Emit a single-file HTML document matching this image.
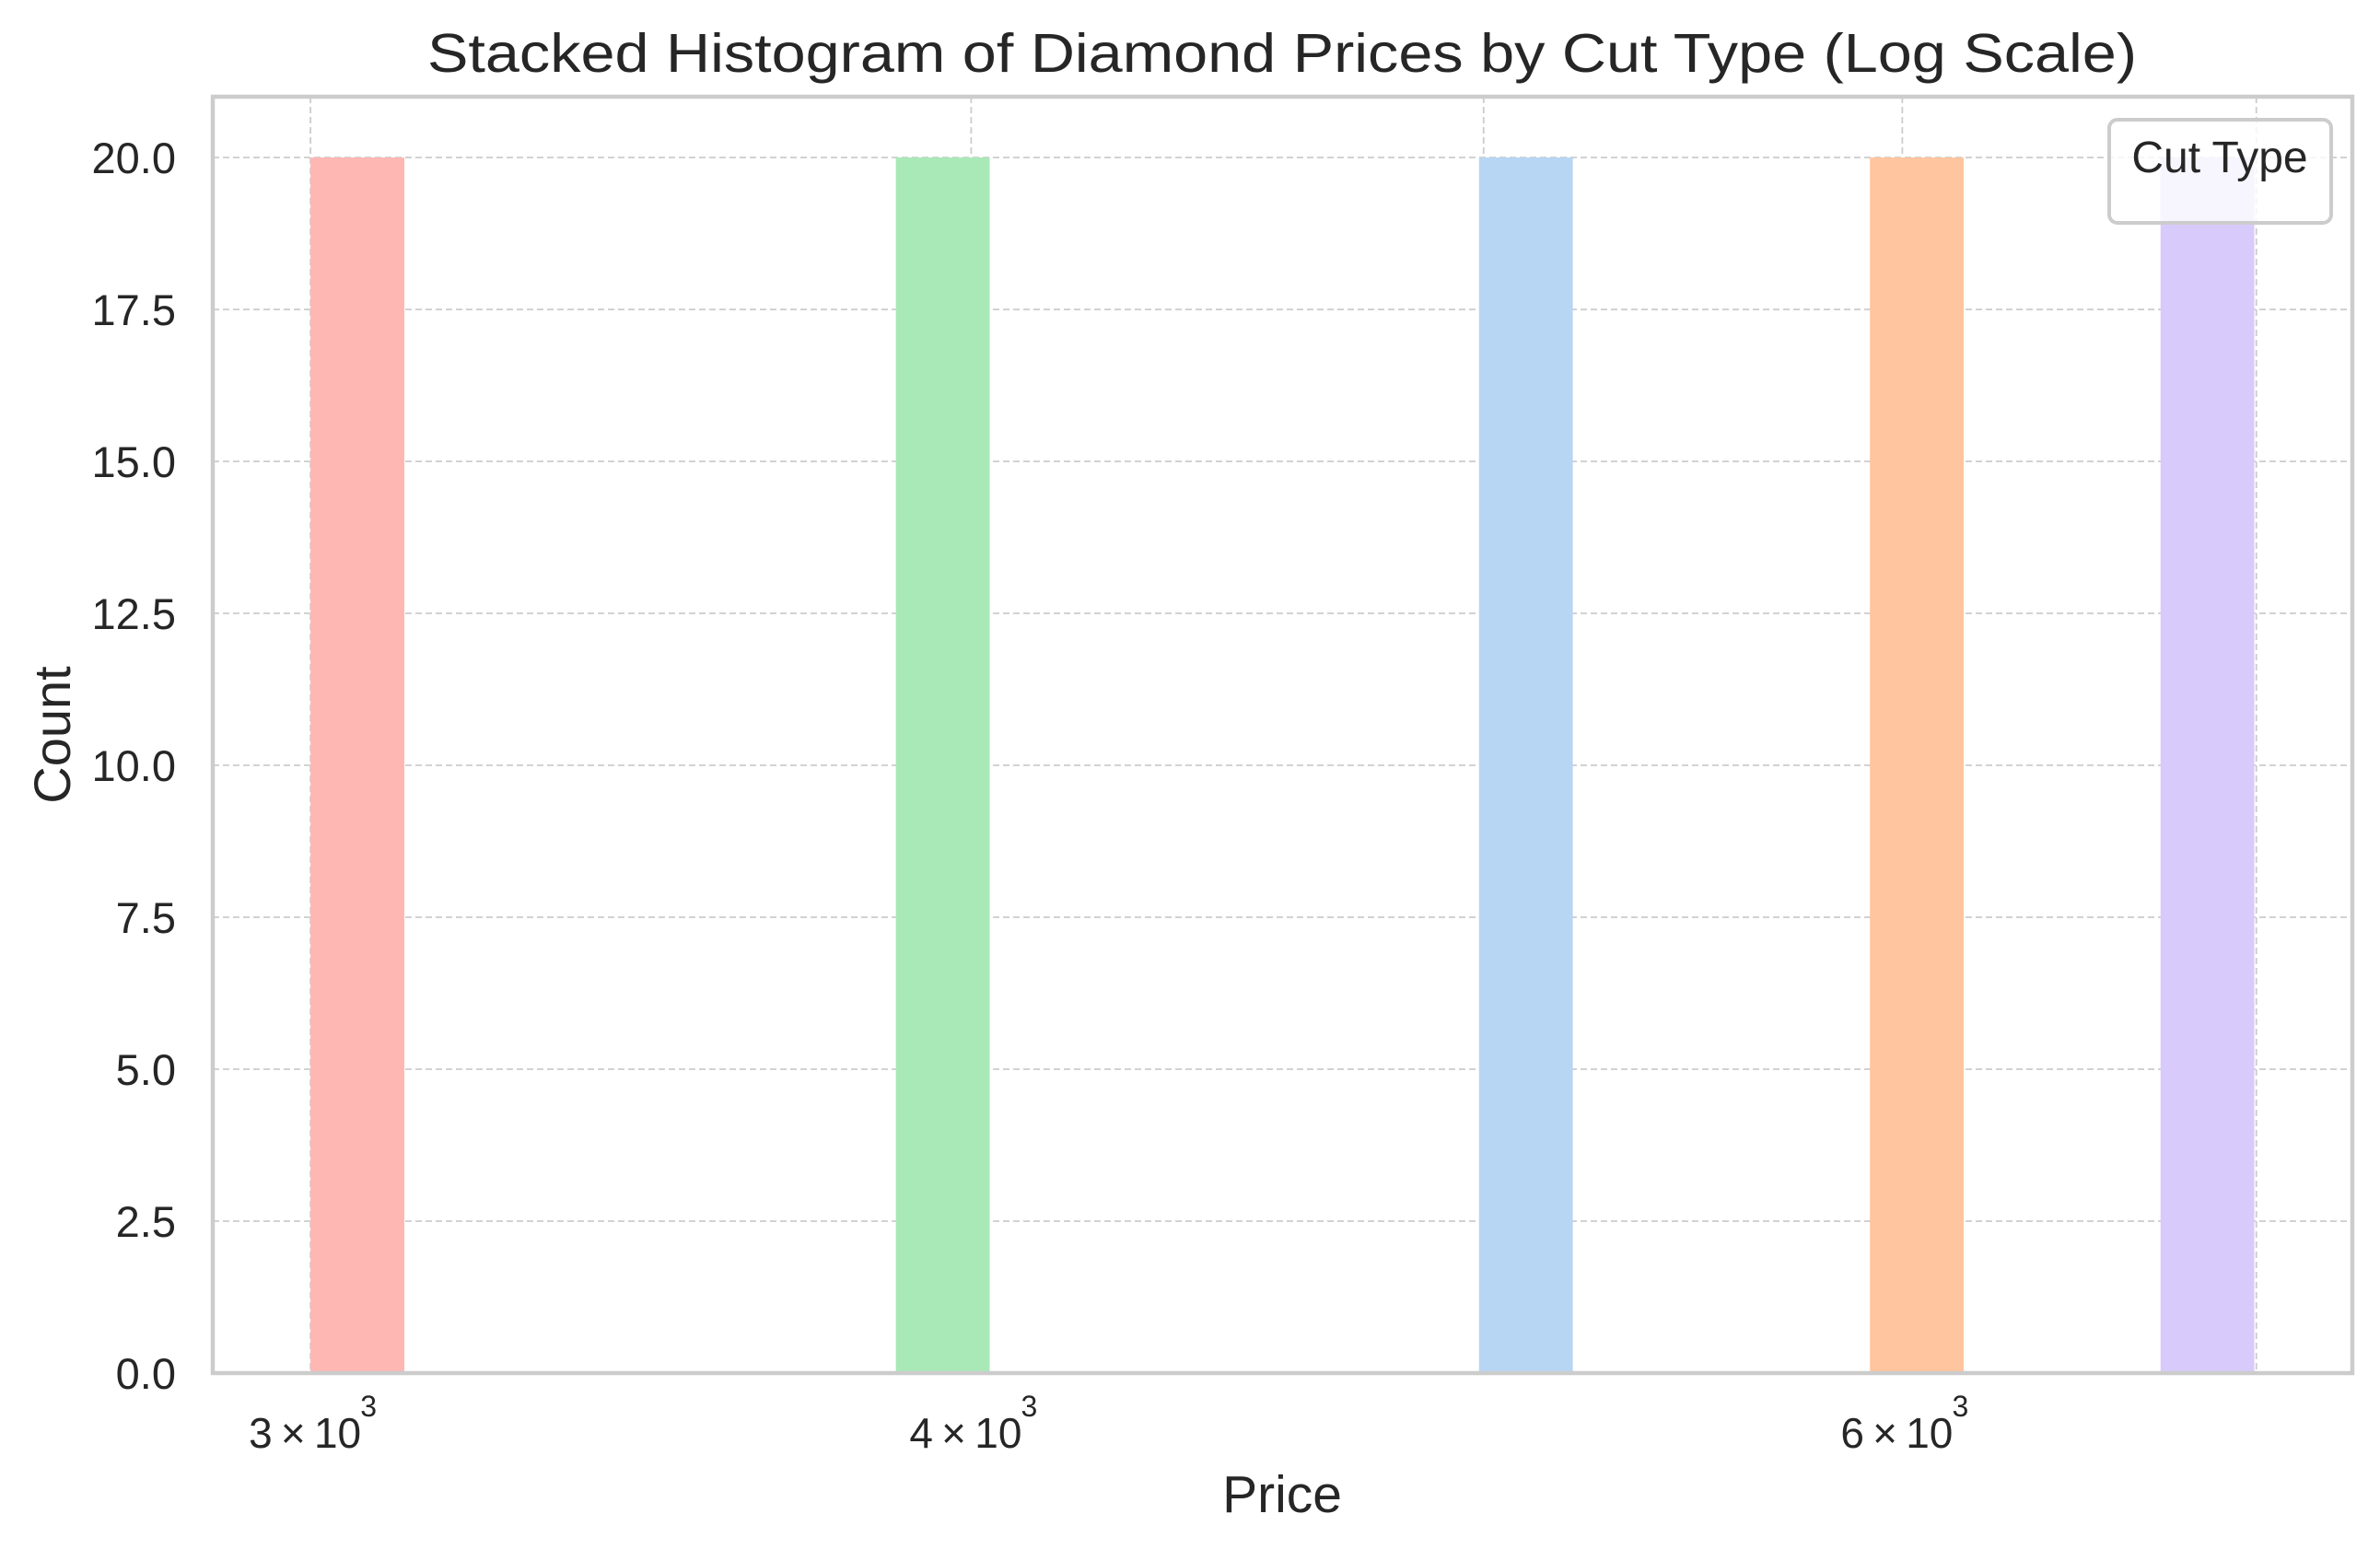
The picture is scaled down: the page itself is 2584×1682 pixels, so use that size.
<!DOCTYPE html>
<html><head><meta charset="utf-8"><style>
html,body{margin:0;padding:0;background:#fff;}
svg{display:block;font-family:"Liberation Sans",Arial,sans-serif;}
</style></head><body>
<svg id="chart" width="2584" height="1682" viewBox="0 0 2584 1682" xmlns="http://www.w3.org/2000/svg">
<rect width="2584" height="1682" fill="#fff"/>
<text x="1392" y="78" font-size="59" fill="#262626" text-anchor="middle" textLength="1856" lengthAdjust="spacingAndGlyphs">Stacked Histogram of Diamond Prices by Cut Type (Log Scale)</text>
<g id="grid"></g>
<g id="bars"></g>
<rect x="231" y="105" width="2323" height="1386" fill="none" stroke="#cccccc" stroke-width="4.5"/>
<g id="yticks"></g>
<g id="xticks"></g>
<text x="1392" y="1642" font-size="57" fill="#262626" text-anchor="middle">Price</text>
<text transform="translate(76,798) rotate(-90)" font-size="56" fill="#262626" text-anchor="middle">Count</text>
<g>
<rect x="2290" y="130" width="241" height="112" rx="9" fill="#ffffff" fill-opacity="0.8" stroke="#cccccc" stroke-width="4"/>
<text x="2410" y="187" font-size="48" fill="#262626" text-anchor="middle">Cut Type</text>
</g>
</svg>
<script>
const binStarts = [3000, 3871, 4990, 5916, 6714];
const counts = [20, 20, 20, 20, 20];
const colors = ["#ffb7b3", "#a9e9b7", "#b7d6f4", "#ffc59e", "#d8cbfb"];
const yTicks = [0, 2.5, 5, 7.5, 10, 12.5, 15, 17.5, 20];
const yTickLabels = ["0.0","2.5","5.0","7.5","10.0","12.5","15.0","17.5","20.0"];
const xGrid = [3000, 4000, 5000, 6000, 7000];
const xMajor = [3000, 4000, 6000];
const xMajorMant = ["3", "4", "6"];
const binFactor = 1.0417;

const NS = "http://www.w3.org/2000/svg";
const L = 231, R = 2554, T = 105, B = 1491;
const xMin = Math.log10(2875), xMax = Math.log10(7299);
function xs(v){ return L + (Math.log10(v) - xMin) / (xMax - xMin) * (R - L); }
function ys(v){ return B - v / 21 * (B - T); }
function mk(tag, attrs, parent){ const e = document.createElementNS(NS, tag); for (const k in attrs) e.setAttribute(k, attrs[k]); parent.appendChild(e); return e; }

const grid = document.getElementById("grid");
yTicks.forEach((t) => {
  const l = mk("line", {x1:L, x2:R, y1:ys(t), y2:ys(t), stroke:"#cccccc", "stroke-width":1.8, "stroke-dasharray":"7,4"}, grid);
  
  
});
xGrid.forEach((v) => {
  const l = mk("line", {x1:xs(v), x2:xs(v), y1:T, y2:B, stroke:"#cccccc", "stroke-width":1.8, "stroke-dasharray":"7,4"}, grid);
  
  
});

const bars = document.getElementById("bars");
binStarts.forEach((s, i) => {
  const x0 = xs(s), x1 = xs(s * binFactor);
  const r = mk("rect", {x:x0, y:ys(counts[i]), width:x1 - x0, height:B - ys(counts[i]), fill:colors[i]}, bars);
  
  
});

const yt = document.getElementById("yticks");
yTicks.forEach((t, i) => {
  const tx = mk("text", {x:191, y:ys(t) + 17, "font-size":47, fill:"#262626", "text-anchor":"end"}, yt);
  tx.textContent = yTickLabels[i];
  
  
});

const xt = document.getElementById("xticks");
xMajor.forEach((v, i) => {
  const tx = mk("text", {x:xs(v) - 6, y:1572, "font-size":46, fill:"#262626", "text-anchor":"middle"}, xt);
  tx.textContent = xMajorMant[i] + "\u2009\u00d7\u200910";
  
  
  const sup = mk("text", {x:xs(v) + 63, y:1538, "font-size":32, fill:"#262626", "text-anchor":"middle"}, xt);
  sup.textContent = "3";
  
  
});
</script>
</body></html>
